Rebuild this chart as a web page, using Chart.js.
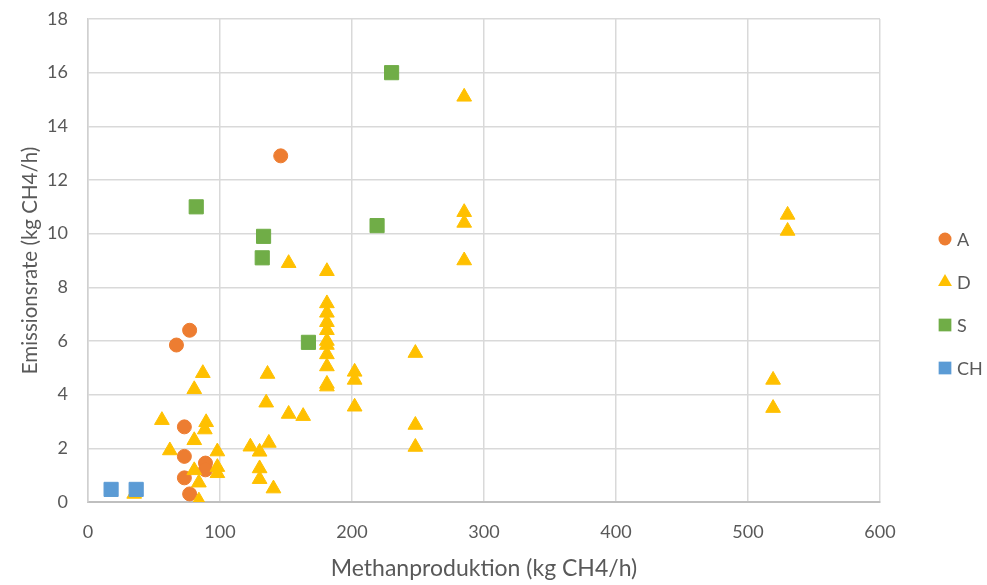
<!DOCTYPE html>
<html>
<head>
<meta charset="utf-8">
<script src="https://cdn.jsdelivr.net/npm/chart.js@4/dist/chart.umd.min.js"></script>
<style>
	html, body { margin: 0; padding: 0; background: #ffffff; }
	#wrap { width: 987px; height: 585px; position: relative; }
</style>
</head>
<body>
<div id="wrap"><canvas id="chart1"></canvas></div>
<script>
// series: Methanproduktion (x) vs Emissionsrate (y), kg CH4/h
const seriesNames = ['A', 'D', 'S', 'CH'];
const seriesColors = ['#ED7D31', '#FFC000', '#70AD47', '#5B9BD5'];
const seriesStyles = ['circle', 'triangle', 'rect', 'rect'];

const aX = [146, 77, 67, 73, 73, 73, 77, 89, 89];
const aY = [12.9, 6.4, 5.85, 2.8, 1.7, 0.9, 0.3, 1.45, 1.2];

const dX = [285, 285, 285, 285, 530, 530, 519, 519, 152, 181,
	181, 181, 181, 181, 181, 181, 181, 181, 181, 181,
	202, 202, 202, 248, 248, 248, 152, 163, 136, 135,
	87, 80.5, 56, 89.5, 88.5, 80.5, 62, 98, 123, 130,
	137, 130, 130, 140.5, 80.5, 98, 98, 84, 84, 35];
const dY = [15.1, 10.8, 10.4, 9.0, 10.7, 10.1, 4.55, 3.5, 8.9, 8.6,
	7.4, 7.05, 6.7, 6.4, 6.0, 5.85, 5.5, 5.05, 4.4, 4.3,
	4.85, 4.55, 3.55, 5.55, 2.87, 2.05, 3.28, 3.2, 4.77, 3.7,
	4.8, 4.2, 3.05, 2.97, 2.7, 2.3, 1.92, 1.88, 2.06, 1.87,
	2.2, 1.25, 0.85, 0.5, 1.18, 1.3, 1.07, 0.72, 0.05, 0.3];

const sX = [230, 82, 133, 132, 219, 167];
const sY = [16, 11, 9.9, 9.1, 10.3, 5.95];

const chX = [17.5, 36.5];
const chY = [0.47, 0.47];

const xTitle = 'Methanproduktion (kg CH4/h)';
const yTitle = 'Emissionsrate (kg CH4/h)';
const xMin = 0, xMax = 600, xStep = 100;
const yMin = 0, yMax = 18, yStep = 2;

const fontFamily = "Lato, 'Open Sans', sans-serif";
const textColor = '#595959';

function toPoints(xs, ys) {
	return xs.map((x, i) => ({x: x, y: ys[i]}));
}

const allPoints = [toPoints(aX, aY), toPoints(dX, dY), toPoints(sX, sY), toPoints(chX, chY)];
const pointSizes = [7, 8.5, 10, 10];

//legend drawn on the right like excel does it
const sideLegend = {
	id: 'sideLegend',
	afterDraw(chart, args, options) {
		const ctx = chart.ctx;
		ctx.save();
		chart.data.datasets.forEach((ds, i) => {
			const cy = options.top + i * options.spacing;
			ctx.fillStyle = ds.backgroundColor;
			ctx.strokeStyle = ds.backgroundColor;
			Chart.helpers.drawPoint(ctx, {
				pointStyle: ds.pointStyle,
				radius: options.markerSizes[i],
				rotation: 0,
				borderWidth: 0
			}, options.left, cy);
			ctx.fillStyle = textColor;
			ctx.font = options.fontSize + 'px ' + fontFamily;
			ctx.textBaseline = 'middle';
			ctx.textAlign = 'left';
			ctx.fillText(ds.label, options.left + 12, cy + 1);
		});
		ctx.restore();
	}
};

const config = {
	type: 'scatter',
	data: {
		datasets: seriesNames.map((name, i) => {
			return {
				label: name,
				data: allPoints[i],
				pointStyle: seriesStyles[i],
				pointRadius: pointSizes[i],
				pointHoverRadius: pointSizes[i],
				backgroundColor: seriesColors[i],
				borderColor: seriesColors[i],
				borderWidth: 1,
				order: seriesNames.length - i
			};
		})
	},
	options: {
		responsive: true,
		maintainAspectRatio: false,
		animation: false,
		layout: {
			padding: {left: 0, right: 107, top: 19, bottom: 0}
		},
		plugins: {
			legend: {display: false},
			tooltip: {enabled: false},
			sideLegend: {
				left: 945,
				top: 239,
				spacing: 43,
				fontSize: 18,
				markerSizes: [6.5, 8, 9, 9]
			}
		},
		scales: {
			x: {
				type: 'linear',
				min: xMin,
				max: xMax,
				afterFit: function(scale) { scale.height = 83; },
				ticks: {
					stepSize: xStep,
					padding: 19,
					color: textColor,
					font: {family: fontFamily, size: 18}
				},
				grid: {
					color: '#d9d9d9',
					lineWidth: 1.5,
					drawTicks: false
				},
				border: {color: '#bfbfbf', width: 2},
				title: {
					display: true,
					text: xTitle,
					color: textColor,
					font: {family: fontFamily, size: 23},
					padding: {top: 0, bottom: 3}
				}
			},
			y: {
				type: 'linear',
				min: yMin,
				max: yMax,
				afterFit: function(scale) { scale.width = 88; },
				ticks: {
					stepSize: yStep,
					padding: 2,
					color: textColor,
					font: {family: fontFamily, size: 18}
				},
				grid: {
					color: '#d9d9d9',
					lineWidth: 1.5,
					drawTicks: true,
					tickLength: 18,
					tickColor: 'rgba(0,0,0,0)'
				},
				border: {color: '#d0d0d0', width: 1.5},
				title: {
					display: true,
					text: yTitle,
					color: textColor,
					font: {family: fontFamily, size: 20.5},
					padding: {top: 18, bottom: 0}
				}
			}
		}
	},
	plugins: [sideLegend]
};

window.container1 = new Chart(document.getElementById('chart1'), config);
</script>
</body>
</html>
